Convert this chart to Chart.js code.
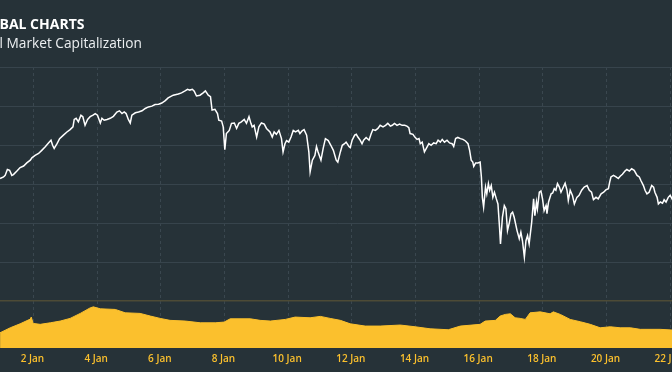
<!DOCTYPE html>
<html>
<head>
<meta charset="utf-8">
<script src="https://cdn.jsdelivr.net/npm/chart.js@4"></script>
<style>
  html, body { margin: 0; padding: 0; background: #263238; overflow: hidden; width: 672px; height: 372px; }
  #wrap { position: absolute; left: -27px; top: 0; width: 729px; height: 372px; }
  .head { position: absolute; white-space: nowrap; line-height: normal; font-family: "Open Sans", sans-serif; }
  #title { top: 14px; font-size: 14px; font-weight: bold; color: #ffffff; }
  #subtitle { top: 33px; font-size: 13.7px; font-weight: normal; color: #eceff1; }
</style>
</head>
<body>
<div id="wrap"><canvas id="capChart" width="729" height="372"></canvas></div>
<div id="title" class="head">GLOBAL CHARTS</div>
<div id="subtitle" class="head">Total Market Capitalization</div>
<script>
  // day of January (decimal) and total market cap in billion USD
  const priceDays = [
    0.95,1.06,1.11,1.18,1.25,1.32,1.37,1.48,1.58,1.69,
    1.79,1.90,1.95,2.05,2.16,2.26,2.37,2.47,2.55,2.60,
    2.65,2.74,2.82,2.94,3.05,3.15,3.24,3.28,3.34,3.41,
    3.49,3.55,3.62,3.70,3.78,3.87,3.94,4.01,4.10,4.15,
    4.22,4.31,4.41,4.51,4.62,4.70,4.78,4.85,4.91,4.98,
    5.04,5.09,5.20,5.30,5.41,5.51,5.61,5.72,5.82,5.93,
    6.03,6.14,6.23,6.39,6.55,6.65,6.76,6.84,6.91,6.99,
    7.05,7.12,7.23,7.33,7.40,7.49,7.56,7.61,7.70,7.78,
    7.82,7.91,7.96,8.01,8.06,8.15,8.22,8.31,8.38,8.45,
    8.53,8.62,8.69,8.77,8.83,8.87,8.93,9.01,9.08,9.16,
    9.25,9.32,9.43,9.50,9.56,9.63,9.71,9.79,9.84,9.90,
    9.95,10.02,10.09,10.16,10.23,10.32,10.37,10.44,10.50,10.58,
    10.65,10.69,10.76,10.84,10.89,10.94,11.03,11.10,11.17,11.26,
    11.34,11.42,11.51,11.56,11.64,11.70,11.77,11.82,11.91,11.95,
    12.01,12.09,12.14,12.19,12.26,12.32,12.37,12.45,12.54,12.61,
    12.66,12.74,12.82,12.89,12.98,13.06,13.13,13.21,13.27,13.34,
    13.42,13.50,13.58,13.66,13.73,13.79,13.83,13.92,13.98,14.05,
    14.11,14.15,14.21,14.28,14.34,14.42,14.49,14.57,14.65,14.71,
    14.78,14.84,14.91,14.99,15.07,15.15,15.20,15.26,15.33,15.41,
    15.49,15.57,15.65,15.70,15.75,15.80,15.83,15.89,15.96,16.03,
    16.07,16.10,16.14,16.20,16.24,16.29,16.33,16.38,16.43,16.48,
    16.54,16.59,16.64,16.67,16.73,16.79,16.84,16.89,16.95,17.00,
    17.05,17.10,17.19,17.26,17.31,17.36,17.42,17.47,17.52,17.57,
    17.65,17.71,17.75,17.80,17.83,17.89,17.94,17.99,18.04,18.10,
    18.13,18.18,18.26,18.31,18.36,18.41,18.46,18.52,18.57,18.62,
    18.70,18.76,18.80,18.86,18.93,18.99,19.07,19.14,19.22,19.30,
    19.39,19.46,19.53,19.59,19.67,19.74,19.83,19.91,19.98,20.06,
    20.10,20.14,20.22,20.30,20.37,20.43,20.50,20.58,20.64,20.72,
    20.79,20.87,20.96,21.03,21.08,21.16,21.21,21.27,21.34,21.42,
    21.48,21.52,21.59,21.63,21.69,21.76,21.81,21.87,21.94,22.00,
    22.07,22.15
  ];
  const priceValues = [
    615,619,623,638,636,623,625,634,643,647,
    655,662,668,674,679,687,696,706,713,700,
    692,704,717,726,734,740,747,766,769,760,
    777,773,751,766,773,777,781,777,757,769,
    764,766,769,774,785,788,781,785,781,766,
    757,777,783,785,788,794,798,800,804,805,
    808,814,821,828,831,834,839,843,841,843,
    838,826,828,834,839,828,824,790,792,781,
    764,762,747,689,730,738,756,757,743,756,
    760,766,756,773,756,747,751,721,747,757,
    754,743,734,721,734,728,738,717,683,704,
    712,708,721,738,734,738,730,737,740,726,
    683,632,662,674,697,683,662,692,717,712,
    700,687,662,657,683,700,704,708,697,694,
    713,726,728,721,713,704,713,720,713,730,
    740,738,743,751,747,751,756,749,751,756,
    751,754,751,751,749,745,730,728,721,715,
    717,704,708,683,692,704,700,706,704,713,
    708,715,708,713,706,704,697,717,720,717,
    715,711,704,687,662,657,646,655,655,657,
    619,567,542,593,576,602,585,597,567,580,
    563,550,490,448,516,546,538,482,503,525,
    529,516,482,461,478,456,414,456,469,448,
    503,563,520,555,538,580,583,563,533,546,
    525,555,576,578,589,585,602,593,580,589,
    603,585,559,585,572,550,567,572,585,593,
    597,585,580,561,567,563,576,580,586,589,
    606,619,623,619,615,621,626,634,638,634,
    640,636,623,619,610,597,585,576,580,597,
    593,580,567,550,555,552,561,555,567,572,
    561,566
  ];

  // 24h volume, billion USD
  const volumeDays = [
    0.95,1.27,1.58,1.90,1.93,1.99,2.21,2.53,2.84,3.15,
    3.47,3.78,3.88,4.10,4.57,4.88,5.35,5.67,5.98,6.29,
    6.77,7.24,7.71,7.99,8.18,8.81,9.12,9.44,9.91,10.22,
    10.69,11.01,11.32,11.64,11.95,12.42,12.89,13.52,13.99,14.46,
    15.03,15.41,16.03,16.19,16.51,16.66,16.82,16.98,17.13,17.29,
    17.45,17.60,17.92,18.23,18.33,18.55,18.86,19.18,19.49,19.80,
    20.12,20.43,20.75,21.06,21.69,22.07,22.30
  ];
  const volumeValues = [
    19.5,25.9,31.0,37.0,39.6,31.5,30.3,32.3,34.5,37.9,
    44.3,51.4,52.7,50.2,49.4,45.1,44.3,40.9,37.9,35.4,
    34.5,32.3,32.3,33.2,37.4,37.4,35.4,34.5,36.6,39.6,
    38.7,40.5,37.9,35.4,31.0,28.1,28.1,29.4,27.2,24.6,
    23.4,28.1,30.3,34.5,35.4,40.9,43.0,43.8,38.7,37.9,
    36.6,45.1,46.3,43.8,46.3,43.0,36.6,33.6,30.3,25.9,
    27.2,25.9,25.9,23.9,23.9,23.0,23.0
  ];

  const xTickDays = [2, 4, 6, 8, 10, 12, 14, 16, 18, 20, 22];
  const xTickLabels = ['2 Jan', '4 Jan', '6 Jan', '8 Jan', '10 Jan', '12 Jan', '14 Jan', '16 Jan', '18 Jan', '20 Jan', '22 Jan'];
  const priceTicks = [400, 500, 600, 700, 800, 900];
  const volumeTicks = [60];

  // the header is cut off on the left like in the original screenshot
  const measure = document.createElement('canvas').getContext('2d');
  measure.font = 'bold 14px "Open Sans"';
  document.getElementById('title').style.left = (-measure.measureText('GLO').width - 0.5) + 'px';
  measure.font = '13.7px "Open Sans"';
  document.getElementById('subtitle').style.left = (-measure.measureText('Tota').width - 0.5) + 'px';

  const ctx = document.getElementById('capChart').getContext('2d');

  const capChart = new Chart(ctx, {
    type: 'line',
    data: {
      datasets: [{
        label: 'Market Cap',
        data: priceDays.map((d, i) => ({ x: d, y: priceValues[i] })),
        yAxisID: 'y',
        borderColor: '#ffffff',
        borderWidth: 1.5,
        pointRadius: 0,
        tension: 0,
        fill: false
      }, {
        label: 'Volume',
        data: volumeDays.map((d, i) => ({ x: d, y: volumeValues[i] })),
        yAxisID: 'y1',
        borderColor: '#FBC02D',
        backgroundColor: '#FBC02D',
        borderWidth: 1,
        pointRadius: 0,
        tension: 0,
        fill: 'origin'
      }]
    },
    options: {
      responsive: false,
      animation: false,
      devicePixelRatio: 1,
      layout: { padding: { left: 0, right: 0, top: 67, bottom: 2 } },
      plugins: {
        legend: { display: false },
        tooltip: { enabled: false }
      },
      scales: {
        x: {
          type: 'linear',
          min: 0.1,
          max: 23,
          afterBuildTicks: (axis) => { axis.ticks = xTickDays.map(v => ({ value: v })); },
          ticks: {
            callback: (value, index) => xTickLabels[index],
            color: '#FBC02D',
            font: { family: '"Open Sans"', size: 10, weight: '600' },
            padding: 5,
            autoSkip: false,
            maxRotation: 0,
            labelOffset: -1
          },
          grid: { color: '#3a474f', drawTicks: false },
          border: { display: false, dash: [3, 3] }
        },
        y: {
          position: 'left',
          min: 182,
          max: 900,
          afterBuildTicks: (axis) => { axis.ticks = priceTicks.map(v => ({ value: v })); },
          ticks: { display: false },
          grid: { color: '#37444c', drawTicks: false },
          border: { display: false }
        },
        y1: {
          position: 'right',
          min: 0,
          max: 360,
          afterBuildTicks: (axis) => { axis.ticks = volumeTicks.map(v => ({ value: v })); },
          ticks: { display: false },
          grid: { color: '#4d4b36', drawTicks: false, lineWidth: 1.5 },
          border: { display: false }
        }
      }
    }
  });
</script>
</body>
</html>
